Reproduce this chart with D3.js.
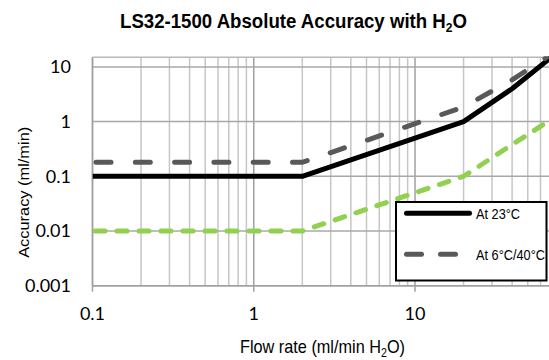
<!DOCTYPE html>
<html><head><meta charset="utf-8">
<script src="https://cdn.jsdelivr.net/npm/d3@7"></script>
<style>body{margin:0;background:#fff}svg{display:block}</style>
</head><body><svg id="c" width="549" height="360"></svg>
<script>
// ---- data ----
const flow23 = [0.1, 2, 20, 40, 70];
const acc23 = [0.1, 0.1, 1, 4, 15];
const flowExt = [0.1, 2, 20, 40, 70];
const accExt = [0.18, 0.18, 1.85, 5.8, 17];
const flowLow = [0.1, 2, 20, 40, 70];
const accLow = [0.01, 0.01, 0.1, 0.38, 1.1];
const xTicks = [0.1, 1, 10];
const xTickLabels = ["0.1", "1", "10"];
const yTicks = [0.001, 0.01, 0.1, 1, 10];
const yTickLabels = ["0.001", "0.01", "0.1", "1", "10"];
const xMinor = [0.2,0.3,0.4,0.5,0.6,0.7,0.8,0.9,2,3,4,5,6,7,8,9,20,30,40,50,60];
const legendLabels = ["At 23°C", "At 6°C/40°C"];

const svg = d3.select("#c");
const L = 92.5, R = 551.3, T = 57.3, B = 285.7;
const x = d3.scaleLog().domain([0.1, 70]).range([L, R]);
const y = d3.scaleLog().domain([0.001, 15]).range([B, T]);

svg.append("defs").append("clipPath").attr("id","clip")
  .append("rect").attr("x", L).attr("y", T - 1).attr("width", R - L).attr("height", B - T + 1);

// gridlines
const g = svg.append("g");
g.selectAll(".xm").data(xMinor).join("line")
  .attr("x1", d => x(d)).attr("x2", d => x(d)).attr("y1", T).attr("y2", B)
  .attr("stroke", "#c6c6c6").attr("stroke-width", 1.5);
g.selectAll(".xM").data(xTicks).join("line")
  .attr("x1", d => x(d)).attr("x2", d => x(d)).attr("y1", T).attr("y2", B + 6)
  .attr("stroke", "#a0a0a0").attr("stroke-width", 1.5);
g.selectAll(".yM").data(yTicks).join("line")
  .attr("x1", L).attr("x2", 549).attr("y1", d => y(d)).attr("y2", d => y(d))
  .attr("stroke", "#a8a8a8").attr("stroke-width", 1.5);
// top border
g.append("line").attr("x1", L).attr("x2", 549).attr("y1", T).attr("y2", T)
  .attr("stroke", "#b8b8b8").attr("stroke-width", 1.5);
// axis lines
g.append("line").attr("x1", L).attr("x2", L).attr("y1", T).attr("y2", B)
  .attr("stroke", "#a0a0a0").attr("stroke-width", 1.5);
g.append("line").attr("x1", L).attr("x2", 549).attr("y1", B).attr("y2", B)
  .attr("stroke", "#a0a0a0").attr("stroke-width", 1.5);

// tick labels
const tickFont = "Lato, 'Open Sans', sans-serif";
svg.selectAll(".yl").data(yTicks).join("text")
  .attr("x", 71).attr("y", d => y(d)).attr("dy", "0.36em")
  .attr("text-anchor", "end").attr("font-family", tickFont).attr("font-size", 18)
  .attr("fill", "#000").text((d, i) => yTickLabels[i]);
svg.selectAll(".xl").data(xTicks).join("text")
  .attr("x", d => x(d)).attr("y", 320)
  .attr("text-anchor", "middle").attr("font-family", tickFont).attr("font-size", 18)
  .attr("fill", "#000").text((d, i) => xTickLabels[i]);

// lines
const line = d3.line().x(d => x(d[0])).y(d => y(d[1]));
const plot = svg.append("g").attr("clip-path", "url(#clip)");
plot.append("path").datum(d3.zip(flowLow, accLow)).attr("d", line)
  .attr("fill", "none").attr("stroke", "#92d050").attr("stroke-width", 5)
  .attr("stroke-linecap", "round").attr("stroke-dasharray", "10,12").attr("stroke-dashoffset", -2.5);
plot.append("path").datum(d3.zip(flow23, acc23)).attr("d", line)
  .attr("fill", "none").attr("stroke", "#000").attr("stroke-width", 5)
  .attr("stroke-linejoin", "round");
plot.append("path").datum(d3.zip(flowExt, accExt)).attr("d", line)
  .attr("fill", "none").attr("stroke", "#595959").attr("stroke-width", 5)
  .attr("stroke-linecap", "round").attr("stroke-dasharray", "15,24.3").attr("stroke-dashoffset", -3.5);

// legend
const lg = svg.append("g");
lg.append("rect").attr("x", 396).attr("y", 202).attr("width", 150.5).attr("height", 78.5)
  .attr("fill", "#fff").attr("stroke", "#000").attr("stroke-width", 2);
lg.append("line").attr("x1", 406.5).attr("x2", 469.5).attr("y1", 213.3).attr("y2", 213.3)
  .attr("stroke", "#000").attr("stroke-width", 5).attr("stroke-linecap", "round");
lg.append("line").attr("x1", 406.5).attr("x2", 458).attr("y1", 254.3).attr("y2", 254.3)
  .attr("stroke", "#595959").attr("stroke-width", 5).attr("stroke-linecap", "round")
  .attr("stroke-dasharray", "15,19");
const legW = [44, 69];
lg.selectAll(".lt").data(legendLabels).join("text")
  .attr("x", 476).attr("y", (d, i) => i === 0 ? 218.8 : 259.6)
  .attr("font-family", "'Liberation Sans', Arial, sans-serif").attr("font-size", 14.5)
  .attr("textLength", (d, i) => legW[i]).attr("lengthAdjust", "spacingAndGlyphs")
  .text(d => d);

// title
const title = svg.append("text").attr("x", 120).attr("y", 28)
  .attr("font-family", "'Liberation Sans', Arial, sans-serif").attr("font-weight", "bold")
  .attr("font-size", 20).attr("textLength", 347).attr("lengthAdjust", "spacingAndGlyphs");
title.append("tspan").text("LS32-1500 Absolute Accuracy with H");
title.append("tspan").attr("font-size", 13).attr("dy", 4).text("2");
title.append("tspan").attr("dy", -4).text("O");

// x axis label
const xl = svg.append("text").attr("x", 240).attr("y", 353.3)
  .attr("font-family", "'Liberation Sans', Arial, sans-serif").attr("font-size", 19)
  .attr("textLength", 165).attr("lengthAdjust", "spacingAndGlyphs");
xl.append("tspan").text("Flow rate (ml/min H");
xl.append("tspan").attr("font-size", 12.5).attr("dy", 4).text("2");
xl.append("tspan").attr("dy", -4).text("O)");

// y axis label
svg.append("text").attr("transform", "translate(28.5,192.3) rotate(-90)")
  .attr("text-anchor", "middle")
  .attr("font-family", "'Liberation Sans', Arial, sans-serif").attr("font-size", 15.5)
  .attr("textLength", 131).attr("lengthAdjust", "spacingAndGlyphs")
  .text("Accuracy (ml/min)");
</script></body></html>
